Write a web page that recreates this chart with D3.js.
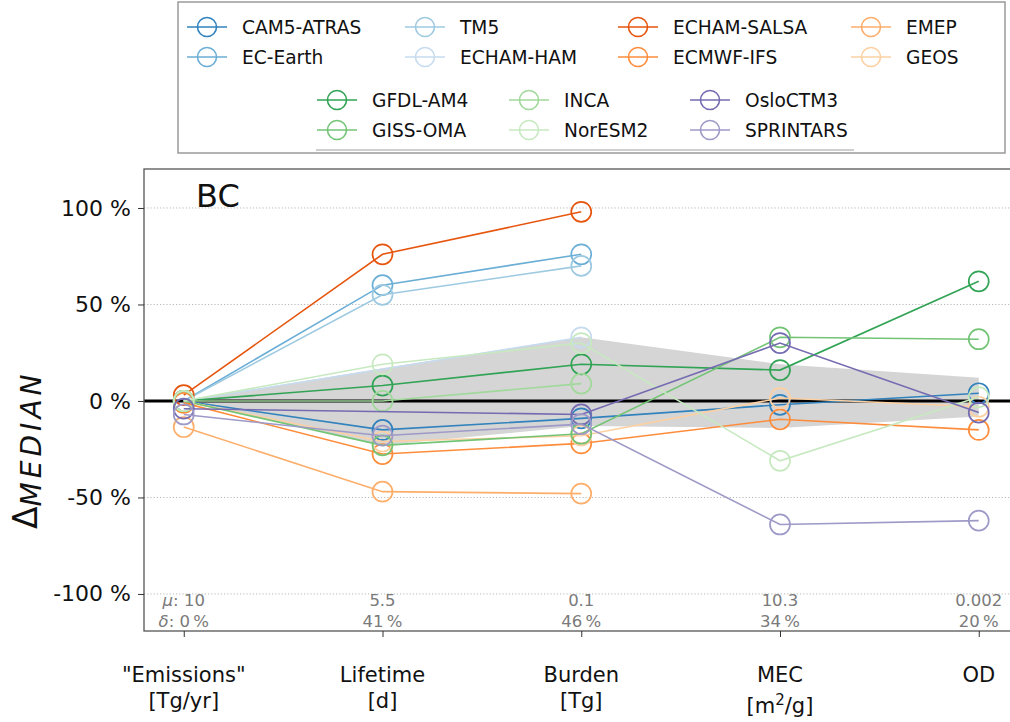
<!DOCTYPE html>
<html><head><meta charset="utf-8">
<script src="https://cdn.jsdelivr.net/npm/d3@7"></script>
<style>body{margin:0;background:#fff} text{font-family:"DejaVu Sans",sans-serif}</style>
</head><body><svg id="c" width="1010" height="722"></svg>
<script>
// ---------- data ----------
const categories = ['"Emissions"', 'Lifetime', 'Burden', 'MEC', 'OD'];
const units = ['[Tg/yr]', '[d]', '[Tg]', '[m|2|/g]', ''];
const muLabels = ['10', '5.5', '0.1', '10.3', '0.002'];
const deltaLabels = ['0%', '41%', '46%', '34%', '20%'];
const yTicks = [100, 50, 0, -50, -100];
const gridTicks = [100, 50, -50, -100];

const modelNames = ['CAM5-ATRAS', 'EC-Earth', 'TM5', 'ECHAM-HAM', 'ECHAM-SALSA', 'ECMWF-IFS', 'EMEP', 'GEOS',
                    'GFDL-AM4', 'GISS-OMA', 'INCA', 'NorESM2', 'OsloCTM3', 'SPRINTARS'];
const modelColors = ['#3182bd', '#6baed6', '#9ecae1', '#c6dbef', '#e6550d', '#fd8d3c', '#fdae6b', '#fdd0a2',
                     '#31a354', '#74c476', '#a1d99b', '#c7e9c0', '#756bb1', '#9e9ac8'];

// Delta from median, % (null = not available)
const cam5Atras  = [0, -15, -9, -2, 4];
const ecEarth    = [0, 60, 76, null, null];
const tm5        = [0, 55, 70, null, null];
const echamHam   = [0, null, 33, null, null];
const echamSalsa = [3, 76, 98, null, null];
const ecmwfIfs   = [-1, -27.5, -22, -9.5, -15];
const emep       = [-13.5, -47, -48, null, null];
const geos       = [0, -21, -18, 1.5, -3];
const gfdlAm4    = [0, 8, 19, 16, 62];
const gissOma    = [0, -23, -17, 33, 32];
const inca       = [0, 0, 9, null, null];
const norEsm2    = [0, 19, 30, -31, 2];
const osloCtm3   = [-4, null, -7, 30, -6];
const sprintars  = [-7, -18, -12, -64, -62];
const seriesValues = [cam5Atras, ecEarth, tm5, echamHam, echamSalsa, ecmwfIfs, emep, geos,
                      gfdlAm4, gissOma, inca, norEsm2, osloCtm3, sprintars];

// spread band
const bandTop    = [0, 17, 33, 19, 12];
const bandBottom = [0, -23, -13, -14, -8];

// ---------- drawing ----------
const svg = d3.select('#c');
const L = 144, R = 1018.5, T = 169, B = 631;
const x = d3.scaleLinear().domain([-0.2, 4.2]).range([L, R]);
const y = d3.scaleLinear().domain([-119.2, 120.2]).range([B, T]);

svg.append('clipPath').attr('id', 'pc').append('rect')
  .attr('x', L).attr('y', T).attr('width', R - L).attr('height', B - T);
const plot = svg.append('g').attr('clip-path', 'url(#pc)');

// grid
plot.selectAll('line.grid').data(gridTicks).join('line')
  .attr('x1', L).attr('x2', R).attr('y1', d => y(d)).attr('y2', d => y(d))
  .attr('stroke', '#b8b8b8').attr('stroke-width', 1).attr('stroke-dasharray', '1.2,2');

// band
const idx = d3.range(categories.length);
plot.append('path').datum(idx)
  .attr('d', d3.area().x(i => x(i)).y0(i => y(bandBottom[i])).y1(i => y(bandTop[i])))
  .attr('fill', '#d5d5d5');

// zero line
plot.append('line').attr('x1', L).attr('x2', R).attr('y1', y(0)).attr('y2', y(0))
  .attr('stroke', '#000').attr('stroke-width', 3);

// series
const line = d3.line().x(p => x(p[0])).y(p => y(p[1]));
seriesValues.forEach((vals, k) => {
  const pts = vals.map((v, i) => [i, v]).filter(p => p[1] !== null);
  const g = plot.append('g');
  g.append('path').datum(pts).attr('d', line).attr('fill', 'none')
    .attr('stroke', modelColors[k]).attr('stroke-width', 1.6);
  g.selectAll('circle').data(pts).join('circle')
    .attr('cx', p => x(p[0])).attr('cy', p => y(p[1])).attr('r', 10)
    .attr('fill', 'none').attr('stroke', modelColors[k]).attr('stroke-width', 1.7);
});

// frame
svg.append('rect').attr('x', L).attr('y', T).attr('width', R - L).attr('height', B - T)
  .attr('fill', 'none').attr('stroke', '#555').attr('stroke-width', 1.3);

// y axis
const ya = svg.append('g').attr('transform', `translate(${L},0)`)
  .call(d3.axisLeft(y).tickValues(yTicks).tickSize(6).tickPadding(7).tickFormat(d => d + ' %'));
ya.select('.domain').remove();
ya.selectAll('line').attr('stroke', '#333');
ya.selectAll('text').attr('font-size', 22).attr('fill', '#111').attr('font-family', 'DejaVu Sans');

// x axis
const xa = svg.append('g').attr('transform', `translate(0,${B})`)
  .call(d3.axisBottom(x).tickValues(idx).tickSize(6).tickFormat(''));
xa.select('.domain').remove();
xa.selectAll('line').attr('stroke', '#333');

const xl = svg.append('g');
idx.forEach(i => {
  xl.append('text').attr('x', x(i)).attr('y', 682).attr('text-anchor', 'middle')
    .attr('font-size', 21).attr('fill', '#111').text(categories[i]);
  if (units[i]) {
    const parts = units[i].split('|');
    const t = xl.append('text').attr('x', x(i)).attr('y', parts.length > 1 ? 713 : 708)
      .attr('text-anchor', 'middle').attr('font-size', 21).attr('fill', '#111');
    if (parts.length > 1) {
      t.append('tspan').text(parts[0]);
      t.append('tspan').attr('dy', -8).attr('font-size', 15).text(parts[1]);
      t.append('tspan').attr('dy', 8).text(parts[2]);
    } else t.text(units[i]);
  }
});

// stats text
const st = svg.append('g').attr('fill', '#7a7a7a').attr('font-size', 16.5);
idx.forEach(i => {
  const t1 = st.append('text').attr('x', x(i)).attr('y', 606).attr('text-anchor', 'middle');
  const t2 = st.append('text').attr('x', x(i)).attr('y', 627).attr('text-anchor', 'middle');
  if (i === 0) {
    t1.append('tspan').attr('font-style', 'italic').text('\u03bc');
    t1.append('tspan').text(': ' + muLabels[i]);
    t2.append('tspan').attr('font-style', 'italic').text('\u03b4');
    t2.append('tspan').text(': ' + deltaLabels[i].replace('%', '\u2009%'));
  } else {
    t1.text(muLabels[i]);
    t2.text(deltaLabels[i].replace('%', '\u2009%'));
  }
});

// BC label
svg.append('text').attr('x', 196).attr('y', 207).attr('font-size', 32).attr('fill', '#111').text('BC');

// y label
const yl = svg.append('text').attr('transform', 'translate(37,529) rotate(-90)').attr('fill', '#111');
yl.append('tspan').attr('font-size', 33).text('\u0394');
yl.append('tspan').attr('font-size', 28).attr('font-style', 'italic').attr('dy', 4)
  .attr('textLength', 132).attr('lengthAdjust', 'spacing').text('MEDIAN');

// legend
const lg = svg.append('g');
lg.append('rect').attr('x', 178).attr('y', 2).attr('width', 827).attr('height', 151)
  .attr('fill', '#fff').attr('stroke', '#9a9a9a').attr('stroke-width', 1.5);
lg.append('line').attr('x1', 316).attr('x2', 854).attr('y1', 150).attr('y2', 150)
  .attr('stroke', '#cfcfcf').attr('stroke-width', 2);
const colX1 = [207, 425, 638, 871];
const colX2 = [337, 529, 710];
const rowY = [27, 57, 100, 130];
modelNames.forEach((name, k) => {
  let cx, cy;
  if (k < 8) { cx = colX1[Math.floor(k / 2)]; cy = rowY[k % 2]; }
  else { const j = k - 8; cx = colX2[Math.floor(j / 2)]; cy = rowY[2 + j % 2]; }
  const g = lg.append('g');
  g.append('line').attr('x1', cx - 20).attr('x2', cx + 20).attr('y1', cy).attr('y2', cy)
    .attr('stroke', modelColors[k]).attr('stroke-width', 1.6);
  g.append('circle').attr('cx', cx).attr('cy', cy).attr('r', 9.5).attr('fill', 'none')
    .attr('stroke', modelColors[k]).attr('stroke-width', 1.6);
  g.append('text').attr('x', cx + 35).attr('y', cy + 7).attr('font-size', 18.6).attr('fill', '#111').text(name);
});
</script></body></html>
